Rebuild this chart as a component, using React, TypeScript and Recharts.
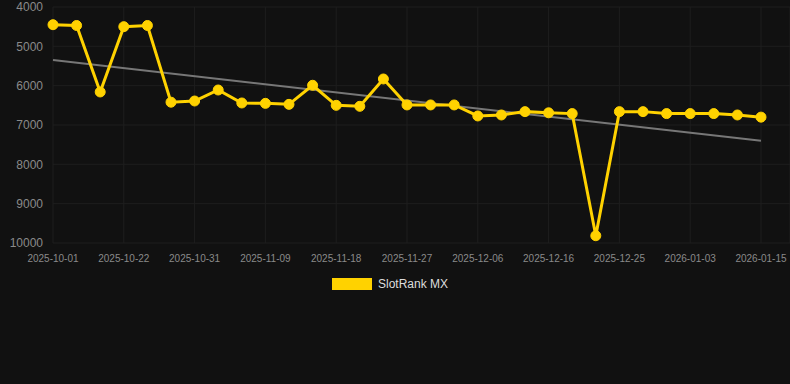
import { LineChart, Line, XAxis, YAxis, CartesianGrid, Legend } from "recharts";

const dates = [
  "2025-10-01", "2025-10-08", "2025-10-15", "2025-10-22", "2025-10-25", "2025-10-28",
  "2025-10-31", "2025-11-03", "2025-11-06", "2025-11-09", "2025-11-12", "2025-11-15",
  "2025-11-18", "2025-11-21", "2025-11-24", "2025-11-27", "2025-11-30", "2025-12-03",
  "2025-12-06", "2025-12-09", "2025-12-12", "2025-12-16", "2025-12-19", "2025-12-22",
  "2025-12-25", "2025-12-28", "2025-12-31", "2026-01-03", "2026-01-07", "2026-01-11",
  "2026-01-15",
];

const ranks = [
  4450, 4470, 6160, 4500, 4470, 6420, 6390, 6110, 6440, 6450, 6475, 5990, 6500, 6525,
  5830, 6490, 6490, 6490, 6770, 6745, 6660, 6690, 6710, 9815, 6660, 6660, 6710, 6710,
  6710, 6745, 6800,
];

// trend line end points
const trendStart = 5350;
const trendEnd = 7400;

const yTicks = [4000, 5000, 6000, 7000, 8000, 9000, 10000];

const data = dates.map((d, i) => ({
  date: d,
  rank: ranks[i],
  trend: i === 0 ? trendStart : i === dates.length - 1 ? trendEnd : null,
}));

const YELLOW = "#ffd200";

const renderLegend = () => (
  <div
    style={{
      display: "flex",
      justifyContent: "center",
      alignItems: "center",
      paddingRight: 10,
      height: 14,
      fontFamily: "'Liberation Sans', Arial, sans-serif",
      fontSize: 12,
      color: "#dddddd",
    }}
  >
    <span style={{ display: "inline-block", width: 40, height: 12, background: YELLOW, marginRight: 6 }} />
    <span>SlotRank MX</span>
  </div>
);

export default function App() {
  return (
    <div
      style={{
        position: "fixed",
        left: 0,
        top: 0,
        width: 790,
        height: 384,
        background: "#111111",
        fontFamily: "'Liberation Sans', Arial, sans-serif",
      }}
    >
      <LineChart width={790} height={384} data={data} margin={{ top: 7, right: 0, left: 0, bottom: 97 }}>
        <CartesianGrid stroke="#1e1e1e" strokeWidth={1} />
        <XAxis
          dataKey="date"
          interval={2}
          axisLine={false}
          tickLine={false}
          tickMargin={6}
          height={30}
          padding={{ left: 0, right: 29 }}
          tick={{ fill: "#8a8a8a", fontSize: 10 }}
        />
        <YAxis
          reversed
          domain={[4000, 10000]}
          ticks={yTicks}
          interval={0}
          width={53}
          axisLine={false}
          tickLine={false}
          tickMargin={4}
          tick={{ fill: "#8a8a8a", fontSize: 12 }}
        />
        <Legend
          content={renderLegend}
          wrapperStyle={{ top: 277, left: 0, width: 790, height: 14 }}
        />
        <Line
          dataKey="trend"
          stroke="#777777"
          strokeWidth={2}
          dot={false}
          connectNulls
          legendType="none"
          isAnimationActive={false}
        />
        <Line
          dataKey="rank"
          name="SlotRank MX"
          stroke={YELLOW}
          strokeWidth={3}
          dot={{ r: 5, fill: YELLOW, stroke: YELLOW, strokeWidth: 1 }}
          isAnimationActive={false}
        />
      </LineChart>
    </div>
  );
}
